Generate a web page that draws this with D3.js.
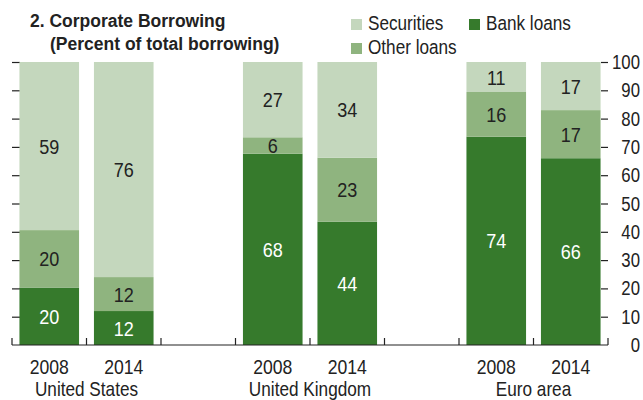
<!DOCTYPE html>
<html><head><meta charset="utf-8">
<script src="https://cdn.jsdelivr.net/npm/d3@7"></script>
<style>
body{margin:0;background:#fff;}
svg{display:block;font-family:"Liberation Sans",Arial,sans-serif;}
</style></head>
<body><svg id="chart" width="643" height="400"></svg>
<script>
const slots = ["US2008","US2014","gap1","UK2008","UK2014","gap2","EA2008","EA2014"];
const bars = ["US2008","US2014","UK2008","UK2014","EA2008","EA2014"];
const years = ["2008","2014","2008","2014","2008","2014"];
const regions = ["United States","United Kingdom","Euro area"];
const bankLoans  = [20.3, 12.0, 67.6, 43.6, 73.6, 66.0];
const otherLoans = [20.3, 12.0, 5.8, 22.6, 15.8, 17.0];
const securities = [59.4, 76.0, 26.6, 33.8, 10.6, 17.0];
const seriesNames = ["Bank loans","Other loans","Securities"];
const seriesColors = ["#367a2c","#8fb47f","#c4d7bd"];
const labelColors = ["#ffffff","#222222","#222222"];
const yTicks = [0,10,20,30,40,50,60,70,80,90,100];

const svg = d3.select("#chart");
const x = d3.scaleBand().domain(slots).range([12, 608]).paddingInner(0.2).paddingOuter(0.1);
const y = d3.scaleLinear().domain([0, 100]).range([345, 62]);

// condensed-looking text placement
function place(sel, fx, fy, sx) {
  return sel.attr("transform", (d, i) => `translate(${fx(d, i)},${fy(d, i)}) scale(${sx},1)`);
}

const table = bars.map((b, i) => ({key: b, "Bank loans": bankLoans[i], "Other loans": otherLoans[i], "Securities": securities[i]}));
const stacked = d3.stack().keys(seriesNames)(table);

// left ticks (inward)
const leftAxis = d3.axisRight(y).tickValues(yTicks.slice(1)).tickSize(8).tickFormat("");
svg.append("g").attr("transform","translate(12,0)").call(leftAxis)
  .call(g => g.select(".domain").remove())
  .call(g => g.selectAll("line").attr("stroke","#222").attr("stroke-width",1.2));

// right axis (ticks inward, labels right)
const rightAxis = d3.axisLeft(y).tickValues(yTicks.slice(1)).tickSize(7).tickFormat("");
svg.append("g").attr("transform","translate(608,0)").call(rightAxis)
  .call(g => g.select(".domain").remove())
  .call(g => g.selectAll("line").attr("stroke","#222").attr("stroke-width",1.2));
place(svg.append("g").selectAll("text").data(yTicks).join("text"), () => 640, d => y(d), 0.86)
  .attr("dy","0.36em").attr("text-anchor","end").attr("font-size",19.5).attr("fill","#222")
  .text(d => d);

// bars
stacked.forEach((s, si) => {
  svg.append("g").selectAll("rect").data(s).join("rect")
    .attr("x", d => x(d.data.key)).attr("width", x.bandwidth())
    .attr("y", d => y(d[1])).attr("height", d => y(d[0]) - y(d[1]))
    .attr("fill", seriesColors[si]);
  place(svg.append("g").selectAll("text").data(s).join("text"),
        d => x(d.data.key) + x.bandwidth()/2, d => (y(d[0]) + y(d[1]))/2, 0.86)
    .attr("dy","0.36em").attr("text-anchor","middle").attr("font-size",21).attr("fill", labelColors[si])
    .text(d => Math.round(d[1]-d[0]));
});

// bottom axis
svg.append("line").attr("x1",12).attr("x2",608).attr("y1",y(0)).attr("y2",y(0))
  .attr("stroke","#222").attr("stroke-width",1.2);
const bounds = slots.map(s => x(s) - x.step()*x.paddingInner()/2).concat([608]);
svg.append("g").selectAll("line").data(bounds).join("line")
  .attr("x1", d => d).attr("x2", d => d).attr("y1", y(0)).attr("y2", y(0)-7)
  .attr("stroke","#222").attr("stroke-width",1.2);

// year labels
place(svg.append("g").selectAll("text").data(bars).join("text"), d => x(d) + x.bandwidth()/2, () => 373.5, 0.88)
  .attr("text-anchor","middle").attr("font-size",20).attr("fill","#222")
  .text((d,i) => years[i]);
// region labels
const regionPairs = [["US2008","US2014"],["UK2008","UK2014"],["EA2008","EA2014"]];
place(svg.append("g").selectAll("text").data(regions).join("text"),
      (d,i) => (x(regionPairs[i][0]) + x(regionPairs[i][1]) + x.bandwidth())/2, () => 395.5, 0.86)
  .attr("text-anchor","middle").attr("font-size",20).attr("fill","#222")
  .text(d => d);

// title
svg.append("text").attr("x",30).attr("y",27).attr("font-size",17.5).attr("font-weight","bold").attr("fill","#222")
  .text("2. Corporate Borrowing");
svg.append("text").attr("x",50).attr("y",50).attr("font-size",17.5).attr("font-weight","bold").attr("fill","#222")
  .text("(Percent of total borrowing)");

// legend
const legendItems = [
  {name:"Securities", color: seriesColors[2], x:351, y:19},
  {name:"Bank loans", color: seriesColors[0], x:469, y:19},
  {name:"Other loans", color: seriesColors[1], x:351, y:43}
];
const lg = svg.append("g").selectAll("g").data(legendItems).join("g");
lg.append("rect").attr("x", d => d.x).attr("y", d => d.y).attr("width",11).attr("height",11).attr("fill", d => d.color);
place(lg.append("text"), d => d.x + 17, d => d.y + 11, 0.88)
  .attr("font-size",19.5).attr("fill","#222").text(d => d.name);
</script></body></html>
